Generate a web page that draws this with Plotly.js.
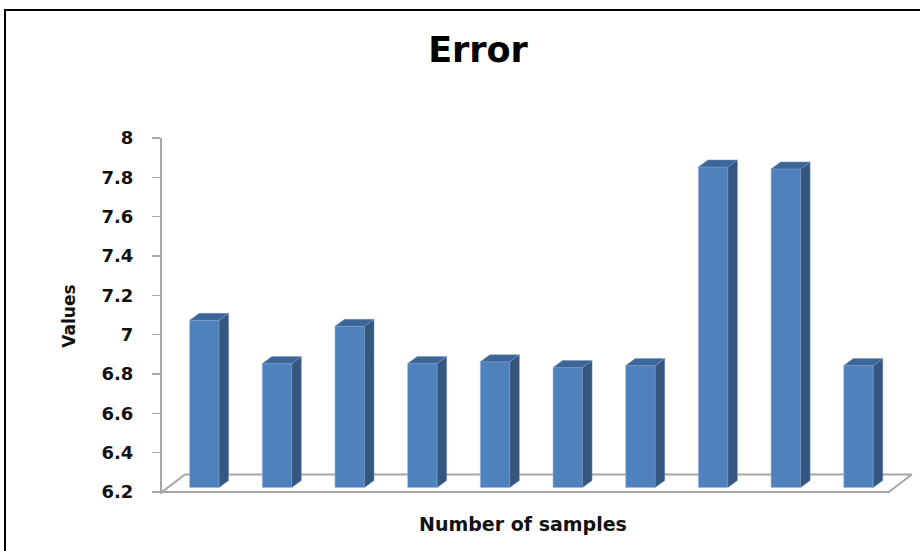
<!DOCTYPE html>
<html>
<head>
<meta charset="utf-8">
<script src="https://cdn.plot.ly/plotly-3.0.1.min.js"></script>
<style>
  html, body { margin: 0; padding: 0; background: #ffffff; }
  #chart { width: 920px; height: 551px; }
</style>
</head>
<body>
<div id="chart"></div>
<script>
// Sample index and error value per sample
const samples = [1, 2, 3, 4, 5, 6, 7, 8, 9, 10];
const errorValues = [7.05, 6.83, 7.02, 6.83, 6.84, 6.81, 6.82, 7.83, 7.82, 6.82];

// Value axis ticks
const tickValues = [6.2, 6.4, 6.6, 6.8, 7, 7.2, 7.4, 7.6, 7.8, 8];
const tickLabels = ['6.2', '6.4', '6.6', '6.8', '7', '7.2', '7.4', '7.6', '7.8', '8'];

// Pseudo-3D column look (oblique projection), all in axis units
const axisMin = 6.2;
const barWidth = 0.406;      // front face width, in category units
const barShift = 0.083;      // columns sit a little behind the front edge of the floor
const depthX = 0.131;        // side/top face depth, x units
const depthY = 0.0356;       // side/top face depth, y units
const floorDepthX = 0.316;
const floorDepthY = 0.089;
const wallLift = 0.0229;     // vertical lift of the column plane relative to the axis plane

const FRONT = '#4F81BD';
const SIDE = '#34567F';
const TOP = '#3D6698';
const FRAME_GREY = '#A6A6A6';

const M = { l: 162, r: 5, t: 138, b: 57 };
const W = 920, H = 551;
const plotW = W - M.l - M.r, plotH = H - M.t - M.b;

const xMin = 0.5, xMax = 10.86;
const yMin = 6.19, yMax = 8;

// Side and top faces of each column
const sideX = [], sideY = [], topX = [], topY = [];
samples.forEach((s, i) => {
  const v = errorValues[i];
  const xl = s + barShift - barWidth / 2;
  const xr = s + barShift + barWidth / 2;
  sideX.push(xr, xr, xr + depthX, xr + depthX, xr, null);
  sideY.push(axisMin, v, v + depthY, axisMin + depthY, axisMin, null);
  topX.push(xl, xr, xr + depthX, xl + depthX, xl, null);
  topY.push(v, v, v + depthY, v + depthY, v, null);
});

// Floor of the chart
const floorX = [xMin, samples.length + 0.5, samples.length + 0.5 + floorDepthX, xMin + floorDepthX, xMin];
const floorY = [axisMin, axisMin, axisMin + floorDepthY, axisMin + floorDepthY, axisMin];

const traces = [
  {
    type: 'scatter', mode: 'lines', x: floorX, y: floorY,
    xaxis: 'x', yaxis: 'y',
    line: { color: FRAME_GREY, width: 2 },
    hoverinfo: 'skip', showlegend: false
  },
  {
    // front faces: columns rise from the floor level up to each value
    type: 'bar', x: samples.map(s => s + barShift),
    y: errorValues.map(v => v - axisMin), base: axisMin,
    width: barWidth,
    xaxis: 'x', yaxis: 'y2',
    marker: { color: FRONT, line: { color: 'rgba(150,180,220,0.7)', width: 0.8 } },
    showlegend: false
  },
  {
    type: 'scatter', mode: 'lines', x: sideX, y: sideY, fill: 'toself',
    xaxis: 'x', yaxis: 'y2',
    fillcolor: SIDE, line: { color: 'rgba(120,150,195,0.6)', width: 0.8 },
    hoverinfo: 'skip', showlegend: false
  },
  {
    type: 'scatter', mode: 'lines', x: topX, y: topY, fill: 'toself',
    xaxis: 'x', yaxis: 'y2',
    fillcolor: TOP, line: { color: 'rgba(120,150,195,0.6)', width: 0.8 },
    hoverinfo: 'skip', showlegend: false
  }
];

const boldFont = (size) => ({ family: 'DejaVu Sans', size: size, color: '#111111', weight: 'bold' });

const layout = {
  width: W, height: H,
  margin: M,
  paper_bgcolor: '#ffffff', plot_bgcolor: 'rgba(0,0,0,0)',
  showlegend: false,
  bargap: 0,
  title: {
    text: 'Error',
    font: { family: 'DejaVu Sans', size: 35, color: '#000000', weight: 'bold' },
    xref: 'container', x: 478 / W, xanchor: 'center',
    yref: 'container', y: 1 - 50 / H, yanchor: 'middle'
  },
  xaxis: {
    range: [xMin, xMax], fixedrange: true,
    showline: false, showgrid: false, zeroline: false,
    showticklabels: false, ticks: ''
  },
  yaxis: {
    range: [yMin, yMax], fixedrange: true,
    tickmode: 'array', tickvals: tickValues, ticktext: tickLabels,
    ticks: 'outside', ticklen: 8, tickwidth: 1.5, tickcolor: FRAME_GREY,
    ticklabelstandoff: 15,
    tickfont: boldFont(18),
    showline: true, linecolor: FRAME_GREY, linewidth: 2,
    showgrid: false, zeroline: false,
    title: { text: 'Values', font: boldFont(17), standoff: 22 }
  },
  yaxis2: {
    range: [yMin - wallLift, yMax - wallLift], overlaying: 'y',
    visible: false, fixedrange: true
  },
  annotations: [
    {
      text: 'Number of samples', showarrow: false,
      xref: 'paper', x: (523 - M.l) / plotW, xanchor: 'center',
      yref: 'paper', y: (H - 524 - M.b) / plotH, yanchor: 'middle',
      font: boldFont(19)
    }
  ],
  shapes: [
    // chart area frame (top and left edges visible)
    {
      type: 'rect', xref: 'paper', yref: 'paper', layer: 'below',
      x0: (5 - M.l) / plotW, x1: (W + 20 - M.l) / plotW,
      y0: (-20 - M.b) / plotH, y1: (H - 10 - M.b) / plotH,
      line: { color: '#000000', width: 2 }, fillcolor: 'rgba(0,0,0,0)'
    }
  ]
};

Plotly.newPlot('chart', traces, layout, { staticPlot: true, displayModeBar: false });
</script>
</body>
</html>
